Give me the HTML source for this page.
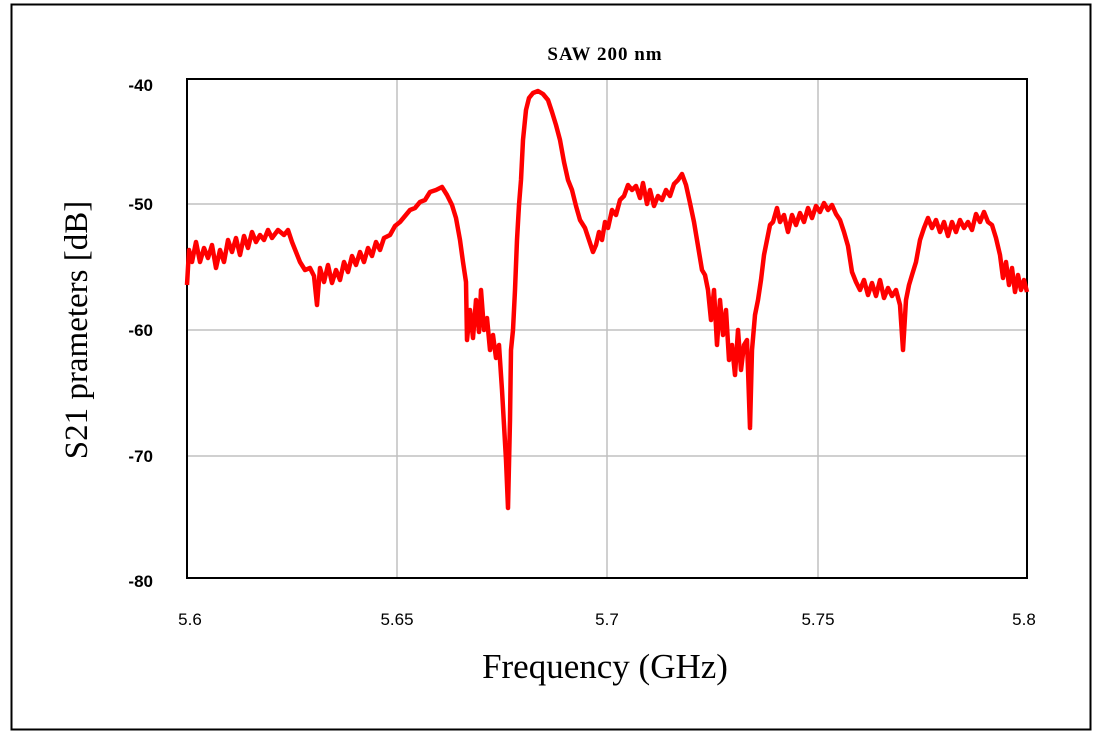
<!DOCTYPE html>
<html><head><style>body{margin:0;background:#fff}</style></head><body>
<svg width="1101" height="733" xmlns="http://www.w3.org/2000/svg" font-family="Liberation Serif, serif">
<rect x="0" y="0" width="1101" height="733" fill="#fff"/>
<rect x="11.5" y="4.5" width="1079" height="725" fill="none" stroke="#000" stroke-width="2"/>
<g stroke="#c0c0c0" stroke-width="1.5">
<line x1="397" y1="79" x2="397" y2="578"/><line x1="607" y1="79" x2="607" y2="578"/><line x1="818" y1="79" x2="818" y2="578"/>
<line x1="187" y1="204" x2="1027" y2="204"/><line x1="187" y1="330" x2="1027" y2="330"/><line x1="187" y1="456" x2="1027" y2="456"/>
</g>
<rect x="187" y="79" width="840" height="499" fill="none" stroke="#000" stroke-width="2"/>
<polyline fill="none" stroke="#f00" stroke-width="4.5" stroke-linejoin="round" points="187,285 189,250 192,262 196,242 200,262 204,248 208,258 212,245 216,268 220,250 224,262 228,240 232,252 236,238 240,255 244,236 248,248 252,232 256,242 260,235 264,240 268,230 272,238 278,230 284,235 288,230 292,242 296,252 300,262 305,270 310,268 314,276 317,305 320,268 324,282 328,265 332,283 336,270 340,280 344,262 348,272 352,256 356,265 360,252 364,262 368,248 372,256 376,242 380,250 384,238 390,235 395,226 400,222 405,216 410,210 415,208 420,202 425,200 430,192 436,190 442,187 447,195 452,205 456,218 460,240 463,262 466,282 467,340 470,310 473,338 476,300 479,332 481,290 484,330 487,318 490,350 493,335 496,358 499,345 502,390 504,425 506,460 508,508 510,420 511,350 513,330 515,290 517,240 519,205 521,180 523,140 526,110 529,98 533,93 538,91 543,94 548,100 552,112 556,125 560,140 564,162 568,180 572,190 576,206 580,220 585,228 589,240 593,252 596,245 599,232 602,240 605,222 608,228 612,210 616,215 620,200 624,196 628,185 632,190 636,186 640,198 643,183 647,204 650,190 654,206 658,196 662,200 666,190 670,196 674,184 678,180 682,174 686,185 690,203 694,222 698,246 702,270 705,275 708,290 711,320 714,290 717,345 720,300 723,335 726,310 729,360 732,345 735,375 738,330 741,370 744,345 747,340 750,428 752,350 755,315 758,300 761,280 764,255 767,240 770,225 773,222 777,208 780,222 784,215 788,232 792,215 796,225 800,213 804,222 808,208 812,218 816,206 820,212 824,203 828,210 832,205 836,214 840,220 844,232 848,246 852,272 856,282 860,290 864,280 868,295 872,283 876,296 880,280 884,298 888,288 892,296 896,290 900,305 903,350 906,300 909,285 912,275 916,262 920,240 924,228 928,218 932,228 936,220 940,232 944,222 948,236 952,222 956,232 960,220 964,228 968,222 972,230 976,214 980,222 984,212 988,222 992,225 996,238 1000,255 1003,278 1006,262 1009,285 1012,268 1015,292 1018,275 1021,290 1024,280 1027,292"/>
<g font-family="Liberation Sans, sans-serif" font-size="17" font-weight="bold" fill="#000" text-anchor="end">
<text x="153" y="91">-40</text><text x="153" y="210">-50</text><text x="153" y="336">-60</text><text x="153" y="462">-70</text><text x="153" y="587">-80</text>
</g>
<g font-family="Liberation Sans, sans-serif" font-size="17" fill="#000" text-anchor="middle">
<text x="190" y="625">5.6</text><text x="397" y="625">5.65</text><text x="607" y="625">5.7</text><text x="818" y="625">5.75</text><text x="1024" y="625">5.8</text>
</g>
<text x="605" y="60" text-anchor="middle" font-size="19" font-weight="bold" letter-spacing="1">SAW 200 nm</text>
<text x="605" y="678" text-anchor="middle" font-size="35">Frequency (GHz)</text>
<text transform="translate(87,330) rotate(-90)" text-anchor="middle" font-size="33">S21 prameters [dB]</text>
</svg>
</body></html>
